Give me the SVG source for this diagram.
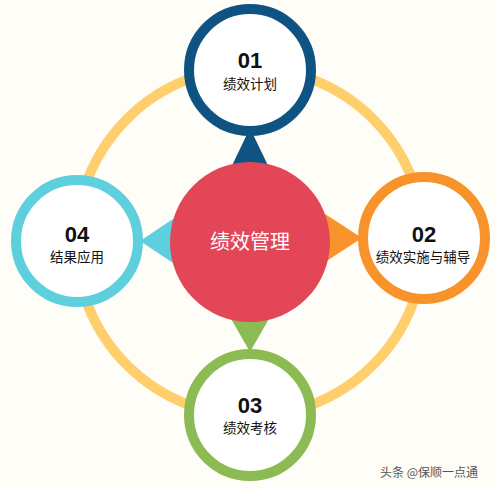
<svg xmlns="http://www.w3.org/2000/svg" width="495" height="489" viewBox="0 0 495 489">
<style>
.num{font-family:"Liberation Sans",Arial,sans-serif;font-weight:bold;font-size:22px;fill:#111;text-anchor:middle}
.lbl{font-family:"Noto Sans CJK SC","Noto Sans",sans-serif;font-size:13.5px;fill:#111;text-anchor:middle}
.node{fill:#fff;stroke-width:10}
</style>
<rect width="495" height="489" fill="#fffdf8"/>
<circle cx="250" cy="242" r="174" fill="none" stroke="#fecf6c" stroke-width="10"/>
<g id="connectors">
<polygon points="250,128 227,176 273,176" fill="#0f5382"/>
<polygon points="362,238 325,214 325,262" fill="#f8922b"/>
<polygon points="250,352 226,310 274,310" fill="#8bbb52"/>
<polygon points="140,241 176,217 176,265" fill="#5ecfdc"/>
</g>
<g id="center">
<circle cx="250" cy="242" r="80" fill="#e24657"/>
<text x="250" y="249" font-family="'Noto Sans CJK SC',sans-serif" font-size="20" fill="#fff" text-anchor="middle">绩效管理</text>
</g>
<g id="n01">
<circle class="node" cx="250" cy="70" r="61" stroke="#0f5382"/>
<text class="num" x="250" y="68">01</text>
<text class="lbl" x="250" y="89">绩效计划</text>
</g>
<g id="n02">
<circle class="node" cx="424" cy="238" r="61" stroke="#f8922b"/>
<text class="num" x="424" y="242">02</text>
<text class="lbl" x="423" y="262">绩效实施与辅导</text>
</g>
<g id="n03">
<circle class="node" cx="250" cy="415" r="61" stroke="#8bbb52"/>
<text class="num" x="250" y="413">03</text>
<text class="lbl" x="250" y="433">绩效考核</text>
</g>
<g id="n04">
<circle class="node" cx="77" cy="241" r="61" stroke="#5ecfdc"/>
<text class="num" x="77" y="242">04</text>
<text class="lbl" x="77" y="262">结果应用</text>
</g>
<text x="380" y="477" font-family="'Noto Sans CJK SC',sans-serif" font-size="12" fill="#555">头条 @保顺一点通</text>
</svg>
